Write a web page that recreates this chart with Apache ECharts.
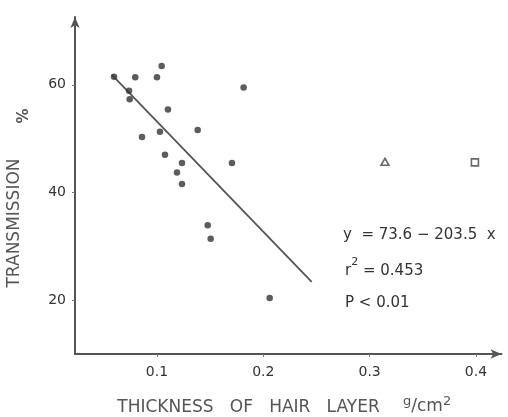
<!DOCTYPE html>
<html>
<head>
<meta charset="utf-8">
<script src="https://cdn.jsdelivr.net/npm/echarts@6/dist/echarts.min.js"></script>
<style>
  html, body { margin: 0; padding: 0; background: #fff; }
  #chart { width: 508px; height: 417px; }
</style>
</head>
<body>
<div id="chart"></div>
<script>
// datos (grosor de pelo vs transmisión)
const thickness = [0.0596, 0.0796, 0.100, 0.1044, 0.0737, 0.0743, 0.1815, 0.1103, 0.1383, 0.1028,
  0.0859, 0.1075, 0.1235, 0.1705, 0.1188, 0.1235, 0.1477, 0.1505, 0.206];
const transmission = [61.5, 61.4, 61.4, 63.5, 58.9, 57.3, 59.5, 55.4, 51.6, 51.3,
  50.3, 47.0, 45.5, 45.5, 43.7, 41.6, 33.9, 31.4, 20.4];
const trianglePt = [0.3144, 45.7];
const squarePt = [0.399, 45.6];
// recta de regresión y = 73.6 - 203.5 x (extremos)
const fitLine = [[0.0574, 61.9], [0.2455, 23.4]];
const xTicks = [0.1, 0.2, 0.3, 0.4];
const yTicks = [20, 40, 60];

const ink = '#333';
const font = 'DejaVu Sans';

const chart = echarts.init(document.getElementById('chart'));

const option = {
  backgroundColor: '#ffffff',
  animation: false,
  grid: { left: 75, right: 6.5, top: 17, bottom: 63 },
  xAxis: {
    type: 'value',
    min: 0.0229,
    max: 0.424,
    splitLine: { show: false },
    axisLine: {
      onZero: false,
      lineStyle: { color: '#555', width: 2 },
      symbol: ['none', 'arrow'],
      symbolSize: [7, 11]
    },
    axisTick: { customValues: xTicks, length: 3, lineStyle: { color: '#777' } },
    axisLabel: {
      customValues: xTicks,
      margin: 11,
      color: ink,
      fontFamily: font,
      fontSize: 14,
      formatter: v => String(v)
    }
  },
  yAxis: {
    type: 'value',
    min: 10,
    max: 72.6,
    splitLine: { show: false },
    axisLine: {
      onZero: false,
      lineStyle: { color: '#555', width: 2 },
      symbol: ['none', 'arrow'],
      symbolSize: [7, 11]
    },
    axisTick: { customValues: yTicks, length: 3, lineStyle: { color: '#777' } },
    axisLabel: {
      customValues: yTicks,
      margin: 9,
      color: ink,
      fontFamily: font,
      fontSize: 14
    }
  },
  series: [
    {
      type: 'line',
      data: fitLine,
      symbol: 'none',
      lineStyle: { color: '#555', width: 1.8 },
      z: 2
    },
    {
      type: 'scatter',
      data: thickness.map((x, i) => [x, transmission[i]]),
      symbol: 'circle',
      symbolSize: 6.5,
      itemStyle: { color: ink },
      z: 3
    },
    {
      type: 'scatter',
      data: [trianglePt],
      symbol: 'triangle',
      symbolSize: [8, 7],
      itemStyle: { color: '#fff', borderColor: '#444', borderWidth: 1.6 }
    },
    {
      type: 'scatter',
      data: [squarePt],
      symbol: 'rect',
      symbolSize: 7,
      itemStyle: { color: '#fff', borderColor: '#444', borderWidth: 1.6 }
    }
  ],
  graphic: [
    {
      type: 'text', x: 15, y: 223, rotation: Math.PI / 2,
      style: { text: 'TRANSMISSION', fill: '#555', font: '17px "DejaVu Sans"', align: 'center', verticalAlign: 'middle' }
    },
    {
      type: 'text', x: 24, y: 116, rotation: Math.PI / 2,
      style: { text: '%', fill: '#555', font: 'bold 15px "DejaVu Sans"', align: 'center', verticalAlign: 'middle' }
    },
    {
      type: 'text', x: 248.5, y: 408,
      style: { text: 'THICKNESS   OF   HAIR   LAYER', fill: '#555', font: '17px "DejaVu Sans"', align: 'center', verticalAlign: 'middle' }
    },
    {
      type: 'text', x: 403, y: 405,
      style: {
        text: '{up|g}{n|/cm}{up|2}',
        fill: '#555', align: 'left', verticalAlign: 'middle',
        rich: {
          up: { fontFamily: font, fontSize: 13, fill: '#555', verticalAlign: 'top', lineHeight: 20 },
          n: { fontFamily: font, fontSize: 17, fill: '#555', verticalAlign: 'bottom', lineHeight: 20 }
        }
      }
    },
    {
      type: 'text', x: 343, y: 235,
      style: { text: 'y  = 73.6 − 203.5  x', fill: ink, font: '15px "DejaVu Sans"', verticalAlign: 'middle' }
    },
    {
      type: 'text', x: 345, y: 268,
      style: {
        text: '{n|r}{up|2}{n| = 0.453}',
        fill: ink, verticalAlign: 'middle',
        rich: {
          n: { fontFamily: font, fontSize: 15, fill: ink, verticalAlign: 'bottom', lineHeight: 22 },
          up: { fontFamily: font, fontSize: 11, fill: ink, verticalAlign: 'top', lineHeight: 22 }
        }
      }
    },
    {
      type: 'text', x: 345, y: 303,
      style: { text: 'P < 0.01', fill: ink, font: '15px "DejaVu Sans"', verticalAlign: 'middle' }
    }
  ]
};

chart.setOption(option);
window.onresize = function () { chart.resize(); };
</script>
</body>
</html>
